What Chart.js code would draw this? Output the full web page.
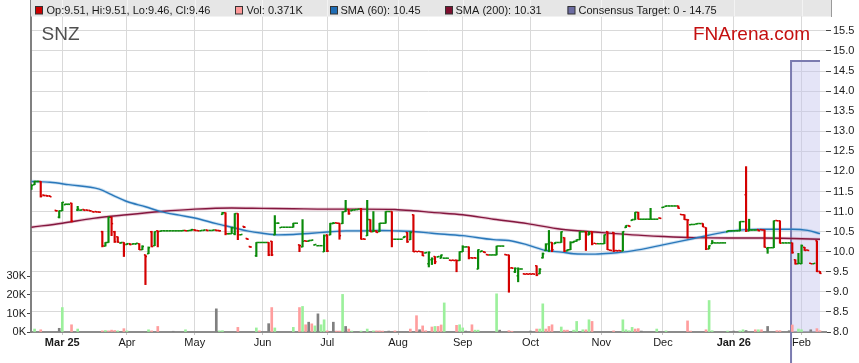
<!DOCTYPE html>
<html><head><meta charset="utf-8">
<script src="https://cdn.jsdelivr.net/npm/chart.js@4.4.1/dist/chart.umd.min.js"></script>
<style>html,body{margin:0;padding:0;background:#fff;}canvas{display:block;}</style>
</head><body>
<canvas id="c" width="859" height="363"></canvas>
<script>
// ---------------- DATA ----------------
const ticker = 'SNZ';
const brand = 'FNArena.com';
// x = trading-day index (0 = 17 Feb 2025, one step per weekday)
const monthIdx = [10, 31, 53, 75, 96, 119, 140, 162, 185, 205, 228, 250];
const monthLabels = ['Mar 25', 'Apr', 'May', 'Jun', 'Jul', 'Aug', 'Sep', 'Oct', 'Nov', 'Dec', 'Jan 26', 'Feb'];
const priceTicks = [8.0, 8.5, 9.0, 9.5, 10.0, 10.5, 11.0, 11.5, 12.0, 12.5, 13.0, 13.5, 14.0, 14.5, 15.0, 15.5];
const volTicks = [0, 10, 20, 30];

const open = [
11.57,11.67,11.75,11.75,11.41,11.40,11.39,null,11.03,10.86,
11.02,11.17,11.18,11.21,null,11.04,11.03,11.05,11.04,11.03,
11.00,11.00,10.99,10.50,10.14,10.23,10.86,10.50,10.37,10.22,
10.23,10.18,10.20,10.19,10.19,10.20,10.05,9.92,9.95,10.50,
10.15,10.52,10.51,10.52,10.52,10.52,10.52,10.52,10.52,10.52,
10.53,10.52,10.53,10.55,10.53,10.52,10.53,10.54,10.53,10.53,
10.54,10.53,10.93,10.97,10.45,10.45,10.45,10.95,10.42,10.63,
10.33,10.13,null,9.90,10.23,10.23,10.23,10.23,10.26,10.42,
10.71,10.60,10.61,10.61,10.61,10.61,10.71,10.17,10.12,10.27,
10.26,10.28,10.17,10.15,10.15,10.00,10.42,10.42,10.70,10.72,
10.71,10.70,11.00,11.05,11.02,11.04,11.05,11.07,10.32,10.40,
10.80,10.50,10.52,10.50,10.71,10.71,11.00,11.00,10.31,10.31,
10.31,10.35,10.48,10.30,10.92,10.01,10.01,10.00,9.97,9.70,
9.80,9.88,9.87,9.84,9.84,9.84,9.79,9.79,9.79,9.78,
10.00,10.12,10.12,9.85,9.85,9.57,10.00,10.00,9.93,9.92,
9.92,9.92,10.14,10.14,9.93,9.92,9.60,9.50,9.40,9.57,
9.45,9.45,9.45,9.45,9.65,9.45,9.85,10.03,10.20,10.23,
10.20,10.23,10.23,10.35,10.02,10.05,10.23,10.26,10.30,10.50,
10.50,10.42,10.50,10.21,10.20,10.20,10.20,10.50,10.04,10.48,
10.03,10.03,10.02,10.60,10.65,10.78,10.80,10.98,10.81,10.81,
10.81,10.81,10.81,10.81,10.84,11.10,11.13,11.14,11.14,11.14,
11.14,10.93,10.92,10.80,10.67,10.68,10.69,10.70,10.70,10.60,
10.07,10.20,10.22,10.22,10.22,10.22,10.50,10.52,10.52,10.52,
10.52,10.75,11.42,10.52,10.54,10.54,10.55,10.55,10.54,10.08,
10.10,10.10,10.78,10.77,10.22,10.22,10.22,10.22,9.80,9.70,
9.70,10.11,10.04,9.71,9.70,10.27,9.51];
const high = [
11.67,11.76,11.76,11.75,11.41,11.40,11.39,null,11.03,11.02,
11.23,11.19,11.19,11.21,null,11.13,11.04,11.05,11.04,11.03,
11.00,11.00,10.99,10.51,10.23,10.86,10.86,10.51,10.37,10.23,
10.23,10.20,10.20,10.20,10.21,10.20,10.15,9.92,10.12,10.51,
10.50,10.52,10.52,10.52,10.52,10.52,10.52,10.52,10.52,10.53,
10.53,10.53,10.56,10.55,10.53,10.53,10.54,10.54,10.53,10.54,
10.54,10.53,10.98,10.97,10.46,10.61,10.95,10.95,10.43,10.63,
10.33,10.13,null,10.23,10.23,10.23,10.23,10.23,10.26,10.90,
10.72,10.61,10.61,10.61,10.61,10.71,10.71,10.17,10.80,10.27,
10.28,10.29,10.18,10.15,10.15,10.42,10.42,10.71,10.73,10.72,
10.71,11.00,11.28,11.05,11.04,11.05,11.06,11.08,10.32,11.28,
10.80,11.00,10.52,10.71,10.71,11.00,11.00,11.00,10.31,10.31,
10.31,10.38,10.48,10.50,10.92,10.01,10.01,10.00,9.98,10.00,
9.85,9.88,9.88,9.92,9.84,9.84,9.79,9.79,9.79,10.00,
10.15,10.12,10.12,9.85,9.85,10.05,10.02,10.00,9.93,9.92,
9.92,10.14,10.14,10.14,9.93,9.92,9.60,9.60,9.60,9.57,
9.45,9.45,9.45,9.45,9.65,9.58,9.97,10.20,10.53,10.23,
10.23,10.23,10.50,10.35,10.05,10.25,10.26,10.30,10.50,10.50,
10.50,10.50,10.50,10.21,10.20,10.20,10.42,10.50,10.04,10.48,
10.03,10.03,10.50,10.65,10.65,10.80,10.98,10.98,10.81,10.81,
10.81,11.08,10.81,10.81,10.84,11.11,11.14,11.14,11.14,11.14,
11.14,10.93,10.92,10.80,10.68,10.68,10.70,10.70,10.70,10.60,
10.15,10.28,10.22,10.22,10.22,10.22,10.52,10.52,10.52,10.52,
10.75,10.75,12.12,10.81,10.54,10.54,10.55,10.55,10.54,10.11,
10.10,10.77,10.78,10.77,10.22,10.22,10.22,10.22,9.80,9.96,
10.17,10.11,10.04,9.71,9.71,10.27,9.51];
const low = [
11.55,11.67,11.74,11.36,11.39,11.38,11.37,null,11.01,10.84,
11.02,11.17,11.18,10.74,null,11.02,11.03,11.03,11.03,11.01,
10.99,10.99,10.98,10.12,10.14,10.23,10.40,10.23,10.23,10.21,
9.88,10.18,10.17,10.19,10.19,10.05,10.05,9.18,9.95,10.12,
10.15,10.12,10.51,10.52,10.52,10.52,10.52,10.52,10.52,10.52,
10.52,10.52,10.53,10.52,10.52,10.52,10.53,10.52,10.53,10.53,
10.52,10.51,10.93,10.42,10.44,10.45,10.42,10.30,10.42,10.60,
10.31,10.11,null,9.88,10.23,10.23,10.23,9.90,9.90,10.42,
10.71,10.60,10.61,10.61,10.61,10.61,10.71,10.00,10.12,10.26,
10.26,10.28,10.17,10.15,10.15,10.00,10.00,10.42,10.70,10.71,
10.31,10.70,11.00,10.93,11.02,11.04,11.05,10.31,10.31,10.40,
10.50,10.50,10.48,10.50,10.71,10.71,11.00,10.12,10.31,10.31,
10.31,10.35,10.23,10.30,10.00,10.00,10.00,9.90,9.97,9.62,
9.68,9.70,9.87,9.84,9.84,9.84,9.78,9.78,9.50,9.78,
10.00,10.12,9.82,9.84,9.84,9.57,10.00,9.98,9.92,9.92,
9.92,9.92,10.14,10.14,9.92,8.99,9.59,9.48,9.25,9.57,
9.44,9.44,9.44,9.44,9.40,9.45,9.84,10.03,10.00,10.00,
10.20,10.23,10.23,10.00,10.02,10.05,10.23,10.26,10.30,10.50,
10.03,10.42,10.17,10.20,10.20,10.20,10.20,10.05,10.03,10.00,
10.02,10.02,10.02,10.60,10.63,10.78,10.80,10.81,10.81,10.81,
10.81,10.81,10.81,10.81,10.83,11.10,11.13,11.14,11.14,11.14,
11.08,10.92,10.80,10.34,10.67,10.68,10.69,10.70,10.62,10.05,
10.07,10.20,10.22,10.22,10.22,10.22,10.50,10.52,10.52,10.52,
10.52,10.75,10.50,10.52,10.54,10.54,10.52,10.54,10.11,9.96,
10.10,10.10,10.77,10.21,10.22,10.22,10.22,9.96,9.69,9.70,
9.70,10.03,10.03,9.70,9.70,9.50,9.46];
const close = [
11.65,11.75,11.75,11.38,11.40,11.39,11.37,null,11.02,11.02,
11.23,11.18,11.18,10.76,null,11.06,11.04,11.03,11.03,11.02,
10.99,10.99,10.98,10.14,10.23,10.86,10.70,10.25,10.24,10.23,
10.18,10.20,10.18,10.20,10.21,10.05,10.13,9.88,10.10,10.13,
10.50,10.50,10.52,10.52,10.52,10.52,10.52,10.52,10.52,10.53,
10.52,10.53,10.55,10.53,10.52,10.53,10.54,10.53,10.53,10.54,
10.53,10.52,10.97,10.45,10.45,10.60,10.95,10.42,10.43,10.61,
10.31,10.12,null,10.23,10.23,10.23,10.23,9.92,9.92,10.71,
10.71,10.61,10.61,10.61,10.61,10.71,10.71,10.15,10.26,10.26,
10.28,10.29,10.18,10.15,10.15,10.40,10.02,10.70,10.71,10.71,
10.40,10.99,11.05,10.95,11.04,11.05,11.06,10.31,10.31,10.80,
10.50,10.52,10.48,10.71,10.71,11.00,11.00,10.31,10.31,10.31,
10.31,10.38,10.25,10.48,10.00,10.00,10.00,9.90,9.98,9.98,
9.82,9.75,9.88,9.92,9.84,9.84,9.78,9.78,9.78,10.00,
10.12,10.12,9.85,9.84,9.84,10.05,10.02,9.98,9.92,9.92,
9.92,10.14,10.14,10.14,9.92,9.59,9.59,9.58,9.57,9.57,
9.44,9.44,9.44,9.44,9.42,9.56,9.95,10.18,10.23,10.05,
10.23,10.23,10.50,10.02,10.05,10.23,10.26,10.30,10.50,10.50,
10.45,10.45,10.20,10.20,10.20,10.20,10.42,10.05,10.03,10.02,
10.02,10.02,10.50,10.65,10.63,10.80,10.98,10.81,10.81,10.81,
10.81,10.81,10.81,10.81,10.83,11.11,11.14,11.14,11.14,11.14,
11.08,10.92,10.80,10.79,10.68,10.68,10.70,10.70,10.62,10.07,
10.15,10.23,10.22,10.22,10.22,10.22,10.52,10.52,10.52,10.52,
10.75,10.75,10.52,10.54,10.54,10.54,10.52,10.54,10.11,10.10,
10.10,10.77,10.77,10.21,10.22,10.22,10.22,9.98,9.70,9.71,
10.15,10.03,10.03,9.70,9.71,9.51,9.46];

// volume (thousands) on the days where a bar is visible
const volIdx = [1,3,9,10,13,15,23,24,25,26,27,28,30,31,38,39,41,46,50,60,61,62,67,73,74,77,78,79,85,87,88,89,90,91,92,93,94,95,96,98,99,100,101,102,103,104,107,109,111,112,113,114,116,118,123,125,126,127,128,130,131,132,133,134,138,139,140,141,143,144,145,151,152,155,156,162,164,165,166,167,168,169,172,173,174,176,177,179,180,181,182,189,192,193,194,195,196,197,198,203,206,213,214,219,220,221,226,228,230,231,232,235,236,237,239,242,243,246,247,249,250,253,255,256];
const volK = [1.6,1.2,2.0,13.2,3.9,1.6,0.6,0.8,0.6,1.0,0.8,0.6,1.8,0.6,1.2,0.6,3.0,0.4,1.2,12.5,0.6,0.7,2.5,2.2,0.6,4.5,13.2,2.2,2.5,13.2,13.8,3.9,5.3,4.4,3.3,9.8,3.9,6.6,0.6,5.3,0.5,0.5,20.3,3.0,1.6,0.5,0.5,1.6,0.6,0.6,0.6,0.5,0.5,0.6,1.6,8.8,1.2,3.3,0.7,2.7,3.0,3.0,3.8,15.7,3.6,3.9,2.2,0.5,3.9,1.0,1.0,20.6,1.0,0.7,0.4,0.5,1.6,1.6,15.2,1.6,3.0,3.9,2.7,1.0,1.0,1.0,5.7,1.2,1.2,6.6,5.7,0.6,6.6,1.2,0.7,2.5,1.6,1.8,0.5,1.6,0.6,6.0,0.5,1.2,17.0,0.7,0.5,0.5,0.6,1.2,0.8,1.2,1.2,1.2,3.0,0.7,0.7,0.7,3.8,1.6,1.2,1.2,1.8,0.7];
const volDir = ['u','d','n','u','d','u','d','u','d','d','d','u','d','u','u','d','d','n','u','n','u','u','d','u','d','n','d','u','u','d','u','d','n','d','u','n','u','u','d','n','d','d','u','n','d','u','u','u','u','d','d','d','n','d','d','d','n','d','d','d','u','d','d','u','d','u','u','n','d','u','u','u','n','d','d','n','d','u','u','d','d','d','u','d','d','u','u','u','d','u','d','d','u','u','u','u','d','d','n','u','u','d','d','d','u','u','u','n','u','u','n','d','u','d','n','d','d','n','d','u','u','n','d','d'];
const lastVolK = 0.371;

const sma60Idx = [0,6,12,22,26,31,37,42,48,53,60,65,70,75,80,85,91,96,102,107,113,118,123,130,140,150,155,161,167,172,176,183,188,195,205,215,226,232,237,247,252,256];
const sma60 = [11.75,11.73,11.67,11.56,11.42,11.25,11.12,11.0,10.91,10.84,10.7,10.61,10.52,10.46,10.42,10.43,10.46,10.49,10.52,10.52,10.53,10.52,10.51,10.46,10.4,10.3,10.28,10.17,10.03,9.99,9.95,9.94,9.96,10.02,10.17,10.33,10.5,10.55,10.56,10.56,10.53,10.45];
const sma200Idx = [0,10,20,31,42,53,65,75,85,96,107,118,124,130,140,150,161,172,183,195,205,215,226,237,247,256];
const sma200 = [10.61,10.71,10.83,10.92,11.0,11.06,11.09,11.08,11.07,11.06,11.06,11.05,11.02,10.98,10.92,10.81,10.7,10.56,10.49,10.42,10.38,10.35,10.34,10.34,10.33,10.31];

const targetLow = 0, targetHigh = 14.75;
const targetFrom = 246.6, targetTo = 256;

// ---------------- BUILD ----------------
const FONT = '"Liberation Sans", Arial, Helvetica, sans-serif';
const UP = '#0a8a0a', DOWN = '#d40000';
const VOLC = {u: '#9cf09c', d: '#ff9e9e', n: '#808080'};
const days = [];
for (let i = 0; i < close.length; i++) if (close[i] !== null) days.push(i);
const dayColor = days.map(i => close[i] >= open[i] ? UP : DOWN);
const last = close.length - 1;

const legendItems = [
  {sq: 35, tx: 46.5, color: '#cc0000', text: `Op:${open[last].toFixed(2)}, Hi:${high[last].toFixed(2)}, Lo:${low[last].toFixed(2)}, Cl:${close[last].toFixed(2)}`},
  {sq: 235, tx: 246.5, color: '#ff9999', text: `Vol: ${lastVolK.toFixed(3)}K`},
  {sq: 330, tx: 340.5, color: '#1f6db5', text: `SMA (60): ${sma60[sma60.length-1].toFixed(2)}`},
  {sq: 445, tx: 455.5, color: '#7d0f2f', text: `SMA (200): ${sma200[sma200.length-1].toFixed(2)}`},
  {sq: 567.5, tx: 578.5, color: '#6c6ca2', text: `Consensus Target: ${targetLow} - ${targetHigh}`}
];

const overlay = {
  id: 'overlay',
  beforeDatasetsDraw(chart) {
    const {ctx, chartArea: a, scales} = chart;
    ctx.save();
    ctx.fillStyle = '#e6e6e6';
    ctx.fillRect(a.left, 0, 831.5 - a.left, 16.5);
    ctx.strokeStyle = '#f3f3f3';
    ctx.lineWidth = 1;
    for (const t of scales.x.ticks) {
      const px = Math.round(scales.x.getPixelForValue(t.value)) + 0.5;
      ctx.beginPath(); ctx.moveTo(px, 0); ctx.lineTo(px, 16.5); ctx.stroke();
    }
    ctx.strokeStyle = '#9a9a9a';
    ctx.beginPath(); ctx.moveTo(831.5, 0); ctx.lineTo(831.5, 17); ctx.stroke();
    ctx.font = '11px ' + FONT;
    ctx.textBaseline = 'middle';
    for (const it of legendItems) {
      ctx.fillStyle = it.color;
      ctx.fillRect(it.sq, 6.5, 7.5, 7.5);
      ctx.strokeStyle = '#333';
      ctx.strokeRect(it.sq + 0.5, 6.5, 7, 7.5);
      ctx.fillStyle = '#1a1a1a';
      ctx.fillText(it.text, it.tx, 10.8);
    }
    ctx.textBaseline = 'alphabetic';
    ctx.font = '19px ' + FONT;
    ctx.fillStyle = '#505050';
    ctx.fillText(ticker, 41.5, 39.5);
    ctx.fillStyle = '#c41010';
    ctx.fillText(brand, 693, 40);
    ctx.restore();
  }
};

const chart = new Chart(document.getElementById('c'), {
  type: 'line',
  data: {
    datasets: [
      { // consensus target band
        type: 'line', order: 10, yAxisID: 'y', clip: false,
        data: [{x: targetFrom, y: targetLow}, {x: targetFrom, y: targetHigh}, {x: targetTo, y: targetHigh}],
        borderColor: '#7b7bb0', borderWidth: 2, backgroundColor: 'rgba(196,196,238,0.45)',
        fill: 'start', pointRadius: 0, pointHoverRadius: 0, tension: 0
      },
      { // volume
        type: 'bar', order: 9, yAxisID: 'yv', grouped: false,
        data: volIdx.map((i, k) => ({x: i, y: volK[k]})),
        backgroundColor: volDir.map(d => VOLC[d]), barThickness: 2, borderWidth: 0
      },
      { // SMA 60 halo
        type: 'line', order: 8, yAxisID: 'y',
        data: sma60Idx.map((i, k) => ({x: i, y: sma60[k]})),
        borderColor: 'rgba(110,170,220,0.35)', borderWidth: 3.2, pointRadius: 0, pointHoverRadius: 0, cubicInterpolationMode: 'monotone', fill: false
      },
      { // SMA 200 halo
        type: 'line', order: 8, yAxisID: 'y',
        data: sma200Idx.map((i, k) => ({x: i, y: sma200[k]})),
        borderColor: 'rgba(195,110,140,0.35)', borderWidth: 3.2, pointRadius: 0, pointHoverRadius: 0, cubicInterpolationMode: 'monotone', fill: false
      },
      { // SMA 60
        type: 'line', order: 7, yAxisID: 'y',
        data: sma60Idx.map((i, k) => ({x: i, y: sma60[k]})),
        borderColor: '#2a78ba', borderWidth: 1.4, pointRadius: 0, pointHoverRadius: 0, cubicInterpolationMode: 'monotone', fill: false
      },
      { // SMA 200
        type: 'line', order: 7, yAxisID: 'y',
        data: sma200Idx.map((i, k) => ({x: i, y: sma200[k]})),
        borderColor: '#84173f', borderWidth: 1.4, pointRadius: 0, pointHoverRadius: 0, cubicInterpolationMode: 'monotone', fill: false
      },
      { // high-low
        type: 'bar', order: 3, yAxisID: 'y', grouped: false,
        data: days.map(i => ({x: i, y: [low[i], high[i]]})),
        backgroundColor: dayColor, barThickness: 1.5, borderWidth: 0
      },
      { // open ticks
        type: 'scatter', order: 2, yAxisID: 'y',
        data: days.map(i => ({x: i - 0.25, y: open[i]})),
        pointStyle: 'line', pointRadius: 0.8, pointHoverRadius: 0.8, pointBorderWidth: 1.5, pointBorderColor: dayColor, showLine: false
      },
      { // close ticks
        type: 'scatter', order: 1, yAxisID: 'y',
        data: days.map(i => ({x: i + 0.25, y: close[i]})),
        pointStyle: 'line', pointRadius: 0.8, pointHoverRadius: 0.8, pointBorderWidth: 1.5, pointBorderColor: dayColor, showLine: false
      }
    ]
  },
  options: {
    responsive: false, animation: false, devicePixelRatio: 1, events: [],
    layout: {padding: 0, autoPadding: false},
    plugins: {legend: {display: false}, tooltip: {enabled: false}, title: {display: false}},
    scales: {
      x: {
        type: 'linear', position: 'bottom', min: -0.16, max: 257.95, offset: false,
        afterBuildTicks: s => { s.ticks = monthIdx.map(v => ({value: v})); },
        afterFit: s => { s.height = 31; s.paddingLeft = 0; s.paddingRight = 0; },
        ticks: {
          autoSkip: false, maxRotation: 0, minRotation: 0, padding: 1, color: '#1a1a1a',
          font: c => ({family: FONT, size: 11, weight: /\d/.test(monthLabels[c.index] || '') ? 'bold' : 'normal'}),
          callback: (v, i) => monthLabels[i]
        },
        grid: {color: '#d9d9d9', lineWidth: 1, tickLength: 3, tickColor: '#c4c4c4', offset: false},
        border: {color: '#8c8c8c', width: 2}
      },
      y: {
        type: 'linear', position: 'right', min: 8, max: 16.27,
        afterBuildTicks: s => { s.ticks = priceTicks.map(v => ({value: v})); },
        afterFit: s => { s.width = 33; s.paddingTop = 0; s.paddingBottom = 0; },
        ticks: {padding: 2, color: '#1a1a1a', font: {family: FONT, size: 11}, callback: v => Number(v).toFixed(1)},
        grid: {color: '#d9d9d9', lineWidth: 1, tickLength: 5, tickColor: '#444'},
        border: {display: false}
      },
      yv: {
        type: 'linear', position: 'left', min: 0, max: 179.2,
        afterBuildTicks: s => { s.ticks = volTicks.map(v => ({value: v})); },
        afterFit: s => { s.width = 31; s.paddingTop = 0; s.paddingBottom = 0; },
        ticks: {padding: 1, color: '#1a1a1a', font: {family: FONT, size: 11}, callback: v => v + 'K'},
        grid: {drawOnChartArea: false, tickLength: 4, tickColor: '#444'},
        border: {color: '#808080', width: 2}
      }
    }
  },
  plugins: [overlay]
});
</script>
</body></html>
